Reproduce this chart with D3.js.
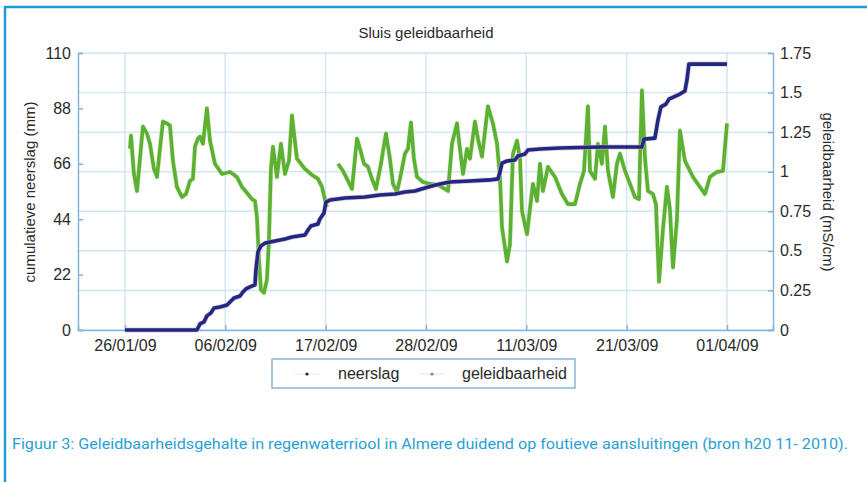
<!DOCTYPE html>
<html>
<head>
<meta charset="utf-8">
<script src="https://cdn.jsdelivr.net/npm/d3@7"></script>
<style>
  html, body { margin: 0; padding: 0; background: #fff; }
  svg { display: block; }
  text { font-family: Arial, "Liberation Sans", sans-serif; fill: #2a2a2a; }
</style>
</head>
<body>
<svg id="chart" width="867" height="482"></svg>
<script>
// ---- data (days since 26/01/09) ----
const chartTitle = "Sluis geleidbaarheid";
const leftLabel = "cumulatieve neerslag (mm)";
const rightLabel = "geleidbaarheid (mS/cm)";
const seriesNames = ["neerslag", "geleidbaarheid"];
const caption = "Figuur 3: Geleidbaarheidsgehalte in regenwaterriool in Almere duidend op foutieve aansluitingen (bron h20 11- 2010).";

const xTickDays = [0, 10.83, 21.67, 32.5, 43.33, 54.17, 65];
const xTickLabels = ["26/01/09", "06/02/09", "17/02/09", "28/02/09", "11/03/09", "21/03/09", "01/04/09"];
const leftTicks = [0, 22, 44, 66, 88, 110];
const rightTicks = [0, 0.25, 0.5, 0.75, 1, 1.25, 1.5, 1.75];
const rightTickLabels = ["0", "0.25", "0.5", "0.75", "1", "1.25", "1.5", "1.75"];

// cumulative rainfall (mm)
const rainDay = [0, 7.77, 8.10, 8.53, 8.85, 9.29, 9.61, 10.26, 11.02, 11.34, 11.77, 12.42, 12.74, 13.06, 13.50, 14.04,
  14.14, 14.36, 14.68, 15.12, 16.20, 17.28, 18.03, 19.43, 19.76, 20.08, 20.84, 21.05, 21.49, 21.70, 22.13,
  23.75, 25.91, 27.53, 29.15, 30.23, 31.31, 32.39, 33.15, 34.01, 35.09, 37.25, 39.41, 40.27, 40.49, 40.71,
  41.25, 42.11, 42.43, 43.19, 43.51, 44.81, 46.97, 51.29, 55.82, 56.04, 57.22, 57.55, 57.87, 58.41, 58.74,
  59.92, 60.46, 60.68, 60.89, 65.00];
const rainMm = [0, 0, 2.4, 3.2, 5.6, 6.8, 8.7, 9.1, 9.9, 11.1, 12.7, 13.5, 15.1, 16.3, 17.1, 17.9,
  23.8, 31.0, 33.4, 34.5, 35.3, 36.1, 36.9, 37.7, 39.7, 41.3, 42.1, 44.1, 46.5, 50.8, 51.6,
  52.4, 52.8, 53.6, 54.0, 54.8, 55.2, 56.4, 57.2, 58.0, 58.8, 59.2, 59.6, 60.0, 62.7, 66.3,
  67.1, 67.5, 69.1, 69.9, 71.5, 71.9, 72.3, 72.7, 72.7, 75.8, 76.2, 83.4, 88.6, 89.7, 91.7,
  93.7, 94.9, 99.3, 105.6, 105.6];

// conductivity (mS/cm); null = gap in record
const condDay = [0.54, 0.65, 0.97, 1.30, 1.62, 1.94, 2.38, 2.70, 3.13, 3.46, 3.78, 4.10, 4.53, 4.86, 5.18, 5.61,
  6.15, 6.59, 7.02, 7.34, 7.56, 7.88, 8.10, 8.42, 8.85, 9.18, 9.72, 10.47, 11.34, 12.09, 12.63, 13.28,
  13.71, 14.04, 14.25, 14.47, 14.68, 15.01, 15.33, 15.55, 15.76, 15.98, 16.41, 16.84, 17.28, 17.71, 18.03,
  18.57, 19.43, 20.19, 20.84, 21.27, 21.59, 21.81, 22.40,
  23.00, 23.54, 24.08, 24.51, 25.05, 25.38, 25.81, 26.24, 26.67, 27.10, 27.64, 28.18, 28.61, 28.94, 29.37,
  29.69, 30.23, 30.56, 30.88, 31.20, 31.53, 32.18, 32.93, 33.80, 34.55, 34.88, 35.31, 35.85, 36.17, 36.50,
  36.93, 37.25, 37.79, 38.11, 38.55, 39.19, 39.73, 40.17, 40.49, 40.71, 41.25, 41.57, 41.89, 42.33, 42.65,
  42.87, 43.41, 43.73, 44.05, 44.49, 44.81, 45.13, 45.67, 46.43, 47.18, 47.83, 48.59, 49.13, 49.56, 49.99,
  50.21, 50.75, 51.07, 51.50, 51.83, 52.15, 52.69, 53.12, 53.45, 53.99, 54.53, 55.07, 55.50, 55.82, 56.15,
  56.47, 57.01, 57.33, 57.66, 58.09, 58.52, 58.84, 59.17, 59.60, 59.92, 60.46, 61.33, 62.08, 62.62, 63.16,
  63.92, 64.57, 65.00];
const condVal = [1.145, 1.228, 0.986, 0.878, 1.082, 1.285, 1.241, 1.177, 1.018, 0.967, 1.145, 1.317, 1.305, 1.292, 1.069, 0.904,
  0.840, 0.859, 0.942, 0.955, 1.158, 1.209, 1.222, 1.177, 1.400, 1.196, 1.050, 0.986, 0.999, 0.967, 0.904, 0.859,
  0.827, 0.815, 0.713, 0.445, 0.255, 0.235, 0.318, 0.573, 1.018, 1.158, 0.967, 1.177, 0.986, 1.069, 1.355,
  1.082, 1.018, 0.980, 0.955, 0.904, 0.827, 0.776, null,
  1.050, 1.005, 0.942, 0.891, 1.209, 1.145, 1.050, 1.031, 0.955, 0.891, 1.050, 1.241, 1.082, 0.923, 0.872,
  0.955, 1.114, 1.145, 1.311, 1.082, 0.967, 0.935, 0.923, 0.916, 0.891, 0.878, 1.177, 1.305, 1.145, 0.986,
  1.145, 1.082, 1.317, 1.209, 1.095, 1.413, 1.305, 1.177, 0.967, 0.649, 0.433, 0.541, 1.114, 1.196, 1.082,
  0.751, 0.605, 0.764, 0.923, 0.815, 1.050, 0.878, 1.031, 0.967, 0.859, 0.795, 0.795, 0.923, 1.005, 1.413,
  1.005, 0.955, 1.177, 1.050, 1.285, 1.005, 0.840, 1.050, 1.114, 1.005, 0.923, 0.840, 0.827, 1.515, 1.082,
  0.878, 0.859, 0.795, 0.305, 0.636, 0.904, 0.764, 0.395, 0.700, 1.260, 1.069, 0.967, 0.904, 0.859, 0.967,
  0.999, 1.005, 1.305];

// ---- layout ----
const svg = d3.select("#chart");
const plot = { left: 78, right: 773, top: 53, bottom: 330 };
const gridColor = "#d3e5f2";
const axisColor = "#86b4d6";
const frameColor = "#1e9ad6";
const fontStack = "Arial, 'Liberation Sans', sans-serif";

const x = d3.scaleLinear().domain([-5.07, 69.97]).range([plot.left, plot.right]);
const yL = d3.scaleLinear().domain([0, 110]).range([plot.bottom, plot.top]);
const yR = d3.scaleLinear().domain([0, 1.75]).range([plot.bottom, plot.top]);

// frame (page border)
svg.append("line").attr("x1", 5).attr("x2", 867).attr("y1", 7).attr("y2", 7)
  .attr("stroke", frameColor).attr("stroke-width", 2.5);
svg.append("line").attr("x1", 5).attr("x2", 5).attr("y1", 6).attr("y2", 482)
  .attr("stroke", frameColor).attr("stroke-width", 2.5);

// grid
const grid = svg.append("g");
grid.selectAll(".hg").data(rightTicks).join("line")
  .attr("x1", plot.left).attr("x2", plot.right)
  .attr("y1", d => yR(d)).attr("y2", d => yR(d))
  .attr("stroke", gridColor).attr("stroke-width", 1.5);
grid.selectAll(".vg").data(xTickDays).join("line")
  .attr("x1", d => x(d)).attr("x2", d => x(d))
  .attr("y1", plot.top).attr("y2", plot.bottom)
  .attr("stroke", gridColor).attr("stroke-width", 1.5);

// axes
const leftAxis = d3.axisLeft(yL).tickValues(leftTicks).tickSize(-5).tickPadding(7);
const rightAxis = d3.axisRight(yR).tickValues(rightTicks).tickSize(-5).tickPadding(7)
  .tickFormat((d, i) => rightTickLabels[i]);
const bottomAxis = d3.axisBottom(x).tickValues(xTickDays).tickSize(-5).tickPadding(10)
  .tickFormat((d, i) => xTickLabels[i]);

function styleAxis(g) {
  g.select(".domain").attr("stroke", axisColor).attr("stroke-width", 1.5);
  g.selectAll(".tick line").attr("stroke", axisColor).attr("stroke-width", 1.5);
  g.selectAll(".tick text").attr("fill", "#2a2a2a").style("font-size", "16px")
    .style("font-family", fontStack);
}
svg.append("g").attr("transform", `translate(${plot.left},0)`).call(leftAxis).call(styleAxis);
svg.append("g").attr("transform", `translate(${plot.right},0)`).call(rightAxis).call(styleAxis);
svg.append("g").attr("transform", `translate(0,${plot.bottom})`).call(bottomAxis).call(styleAxis);

// series
const condData = condDay.map((d, i) => ({ d, v: condVal[i] }));
const rainData = rainDay.map((d, i) => ({ d, v: rainMm[i] }));

const condLine = d3.line().defined(p => p.v !== null).x(p => x(p.d)).y(p => yR(p.v));
const rainLine = d3.line().x(p => x(p.d)).y(p => yL(p.v));

svg.append("path").datum(condData).attr("d", condLine)
  .attr("fill", "none").attr("stroke", "#c8e6a8").attr("stroke-width", 5)
  .attr("stroke-linejoin", "round").attr("opacity", 0.6);
svg.append("path").datum(condData).attr("d", condLine)
  .attr("fill", "none").attr("stroke", "#5cb034").attr("stroke-width", 3.6)
  .attr("stroke-linejoin", "round");

svg.append("path").datum(rainData).attr("d", rainLine)
  .attr("fill", "none").attr("stroke", "#e7a9bb").attr("stroke-width", 5)
  .attr("stroke-linejoin", "round").attr("opacity", 0.7);
svg.append("path").datum(rainData).attr("d", rainLine)
  .attr("fill", "none").attr("stroke", "#1c2a86").attr("stroke-width", 3.6)
  .attr("stroke-linejoin", "round");

// title
svg.append("text").attr("x", 426).attr("y", 38).attr("text-anchor", "middle")
  .style("font-size", "15px").style("font-family", fontStack).text(chartTitle);

// axis labels
svg.append("text").attr("transform", "translate(35,192) rotate(-90)")
  .attr("text-anchor", "middle").style("font-size", "15px").style("font-family", fontStack).text(leftLabel);
svg.append("text").attr("transform", "translate(823,192) rotate(90)")
  .attr("text-anchor", "middle").style("font-size", "15px").style("font-family", fontStack).text(rightLabel);

// legend
const lg = svg.append("g");
lg.append("rect").attr("x", 272).attr("y", 359).attr("width", 303).attr("height", 29)
  .attr("fill", "#fff").attr("stroke", axisColor).attr("stroke-width", 1.5);
const legendItems = [
  { name: seriesNames[0], mx: 307, tx: 338, dot: "#1c2a3e" },
  { name: seriesNames[1], mx: 432, tx: 462, dot: "#7a8a70" }
];
legendItems.forEach(it => {
  lg.append("line").attr("x1", it.mx - 12).attr("x2", it.mx + 12).attr("y1", 374).attr("y2", 374)
    .attr("stroke", "#dfe6ee").attr("stroke-width", 1);
  lg.append("circle").attr("cx", it.mx).attr("cy", 374).attr("r", 1.6).attr("fill", it.dot);
  lg.append("text").attr("x", it.tx).attr("y", 379).style("font-size", "16px")
    .style("font-family", fontStack).text(it.name);
});

// caption
svg.append("text").attr("x", 12).attr("y", 449)
  .attr("textLength", 836).attr("lengthAdjust", "spacingAndGlyphs")
  .style("font-family", "'Liberation Sans Narrow', 'Roboto', Arial, sans-serif")
  .style("font-size", "15px").style("fill", "#2a9fd6").text(caption);
</script>
</body>
</html>
